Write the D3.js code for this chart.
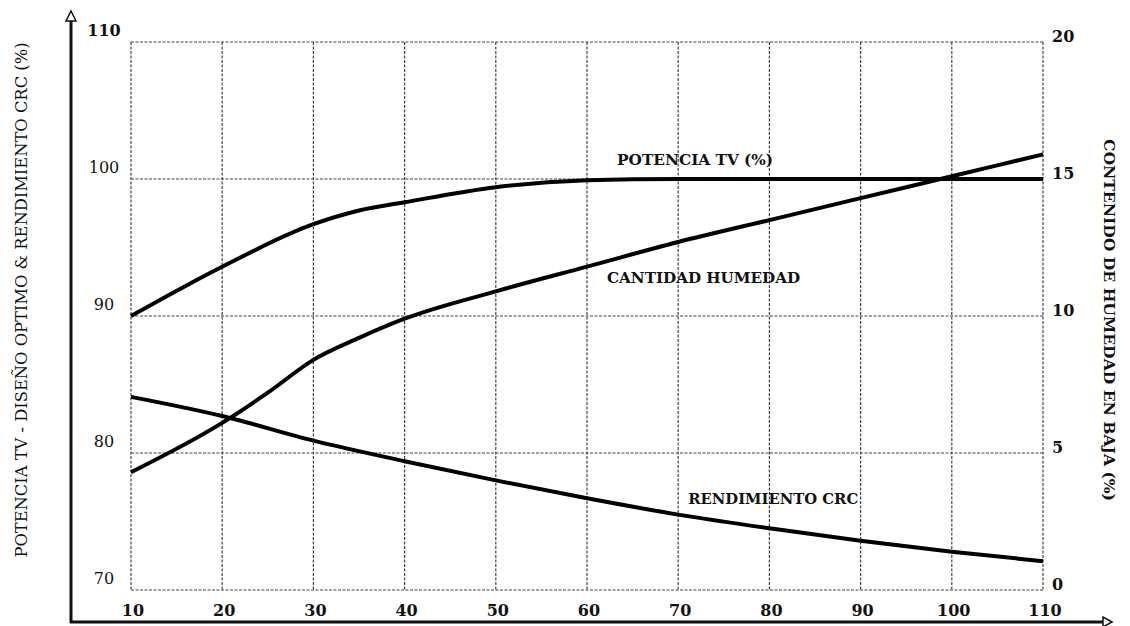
<!DOCTYPE html>
<html>
<head>
<meta charset="utf-8">
<script src="https://cdn.jsdelivr.net/npm/d3@7"></script>
<style>
body { margin: 0; background: #fff; }
text { font-family: "DejaVu Serif", "Liberation Serif", serif; fill: #111; }
</style>
</head>
<body>
<div id="chart"></div>
<script>
// datos
var xTicks = [10, 20, 30, 40, 50, 60, 70, 80, 90, 100, 110];
var leftTicks = [70, 80, 90, 100, 110];
var rightTicks = [0, 5, 10, 15, 20];

var potenciaX = [10, 20, 30, 35, 40, 50, 60, 70, 80, 90, 100, 110];
var potenciaY = [90.0, 93.6, 96.7, 97.7, 98.3, 99.4, 99.9, 100, 100, 100, 100, 100];

var humedadX = [10, 20, 25, 30, 35, 40, 50, 60, 70, 80, 90, 100, 110];
var humedadY = [4.3, 6.1, 7.2, 8.4, 9.2, 9.9, 10.9, 11.8, 12.7, 13.5, 14.3, 15.1, 15.9];

var rendX = [10, 20, 30, 40, 50, 60, 70, 80, 90, 100, 110];
var rendY = [84.1, 82.7, 80.9, 79.4, 78.0, 76.7, 75.5, 74.5, 73.6, 72.8, 72.1];

var width = 1130;
var height = 626;

var svg = d3
.select("#chart")
.append("svg")
.attr("width", width)
.attr("height", height);

var Xscale = d3.scaleLinear().domain([10, 110]).range([131, 1043]);
var YscaleL = d3.scaleLinear().domain([70, 110]).range([590, 42]);
var YscaleR = d3.scaleLinear().domain([0, 20]).range([590, 42]);

// rejilla punteada
svg.append("g")
.selectAll("line")
.data(xTicks)
.enter()
.append("line")
.attr("x1", function(d) { return Xscale(d); })
.attr("x2", function(d) { return Xscale(d); })
.attr("y1", YscaleL(110))
.attr("y2", YscaleL(70))
.attr("stroke", "#444")
.attr("stroke-width", 1.2)
.attr("stroke-dasharray", "3,1.5");

svg.append("g")
.selectAll("line")
.data(leftTicks)
.enter()
.append("line")
.attr("x1", Xscale(10))
.attr("x2", Xscale(110))
.attr("y1", function(d) { return YscaleL(d); })
.attr("y2", function(d) { return YscaleL(d); })
.attr("stroke", "#444")
.attr("stroke-width", 1.2)
.attr("stroke-dasharray", "3,1.5");

// etiquetas de los ejes
svg.append("g")
.selectAll("text")
.data(leftTicks)
.enter()
.append("text")
.attr("x", 104)
.attr("y", function(d) { return YscaleL(d) - 11; })
.attr("text-anchor", "middle")
.attr("dominant-baseline", "middle")
.attr("font-size", 16)
.attr("font-weight", function(d) { return d === 110 ? "bold" : "normal"; })
.text(function(d) { return d; });

svg.append("g")
.selectAll("text")
.data(rightTicks)
.enter()
.append("text")
.attr("x", 1052)
.attr("y", function(d) { return YscaleR(d) - 5; })
.attr("dominant-baseline", "middle")
.attr("font-size", 16)
.attr("font-weight", "bold")
.text(function(d) { return d; });

svg.append("g")
.selectAll("text")
.data(xTicks)
.enter()
.append("text")
.attr("x", function(d) { return Xscale(d) + 2; })
.attr("y", 611)
.attr("text-anchor", "middle")
.attr("dominant-baseline", "middle")
.attr("font-size", 16)
.attr("font-weight", "bold")
.text(function(d) { return d; });

// ejes con flecha
svg.append("line")
.attr("x1", 71).attr("y1", 20)
.attr("x2", 71).attr("y2", 623)
.attr("stroke", "#111")
.attr("stroke-width", 3);

svg.append("line")
.attr("x1", 70).attr("y1", 622)
.attr("x2", 1104).attr("y2", 622)
.attr("stroke", "#111")
.attr("stroke-width", 3);

svg.append("path")
.attr("d", "M71,11 L76,21 L66,21 Z")
.attr("fill", "#fff")
.attr("stroke", "#111")
.attr("stroke-width", 1.5);

svg.append("path")
.attr("d", "M1112,622 L1103,617 L1103,627 Z")
.attr("fill", "#fff")
.attr("stroke", "#111")
.attr("stroke-width", 1.5);

// curvas
var lineL = d3.line()
.x(function(d) { return Xscale(d[0]); })
.y(function(d) { return YscaleL(d[1]); })
.curve(d3.curveMonotoneX);

var lineR = d3.line()
.x(function(d) { return Xscale(d[0]); })
.y(function(d) { return YscaleR(d[1]); })
.curve(d3.curveMonotoneX);

svg.append("path")
.datum(d3.zip(potenciaX, potenciaY))
.attr("d", lineL)
.attr("fill", "none")
.attr("stroke", "#000")
.attr("stroke-width", 4);

svg.append("path")
.datum(d3.zip(humedadX, humedadY))
.attr("d", lineR)
.attr("fill", "none")
.attr("stroke", "#000")
.attr("stroke-width", 4);

svg.append("path")
.datum(d3.zip(rendX, rendY))
.attr("d", lineL)
.attr("fill", "none")
.attr("stroke", "#000")
.attr("stroke-width", 4);

// nombres de las curvas
svg.append("text")
.attr("x", Xscale(63.3))
.attr("y", YscaleL(101))
.attr("font-size", 15)
.attr("font-weight", "bold")
.attr("textLength", 156)
.attr("lengthAdjust", "spacingAndGlyphs")
.text("POTENCIA TV (%)");

svg.append("text")
.attr("x", Xscale(62.2))
.attr("y", YscaleR(11.2))
.attr("font-size", 15)
.attr("font-weight", "bold")
.attr("textLength", 193)
.attr("lengthAdjust", "spacingAndGlyphs")
.text("CANTIDAD HUMEDAD");

svg.append("text")
.attr("x", Xscale(71.1))
.attr("y", YscaleL(76.3))
.attr("font-size", 15)
.attr("font-weight", "bold")
.attr("textLength", 170)
.attr("lengthAdjust", "spacingAndGlyphs")
.text("RENDIMIENTO CRC");

// titulos
svg.append("text")
.attr("transform", "translate(27,300)rotate(-90)")
.attr("text-anchor", "middle")
.attr("font-size", 16)
.attr("textLength", 515)
.attr("lengthAdjust", "spacingAndGlyphs")
.text("POTENCIA TV - DISEÑO OPTIMO & RENDIMIENTO CRC (%)");

svg.append("text")
.attr("transform", "translate(1104,320)rotate(90)")
.attr("text-anchor", "middle")
.attr("font-size", 15)
.attr("font-weight", "bold")
.attr("textLength", 362)
.attr("lengthAdjust", "spacingAndGlyphs")
.text("CONTENIDO DE HUMEDAD EN BAJA (%)");
</script>
</body>
</html>
